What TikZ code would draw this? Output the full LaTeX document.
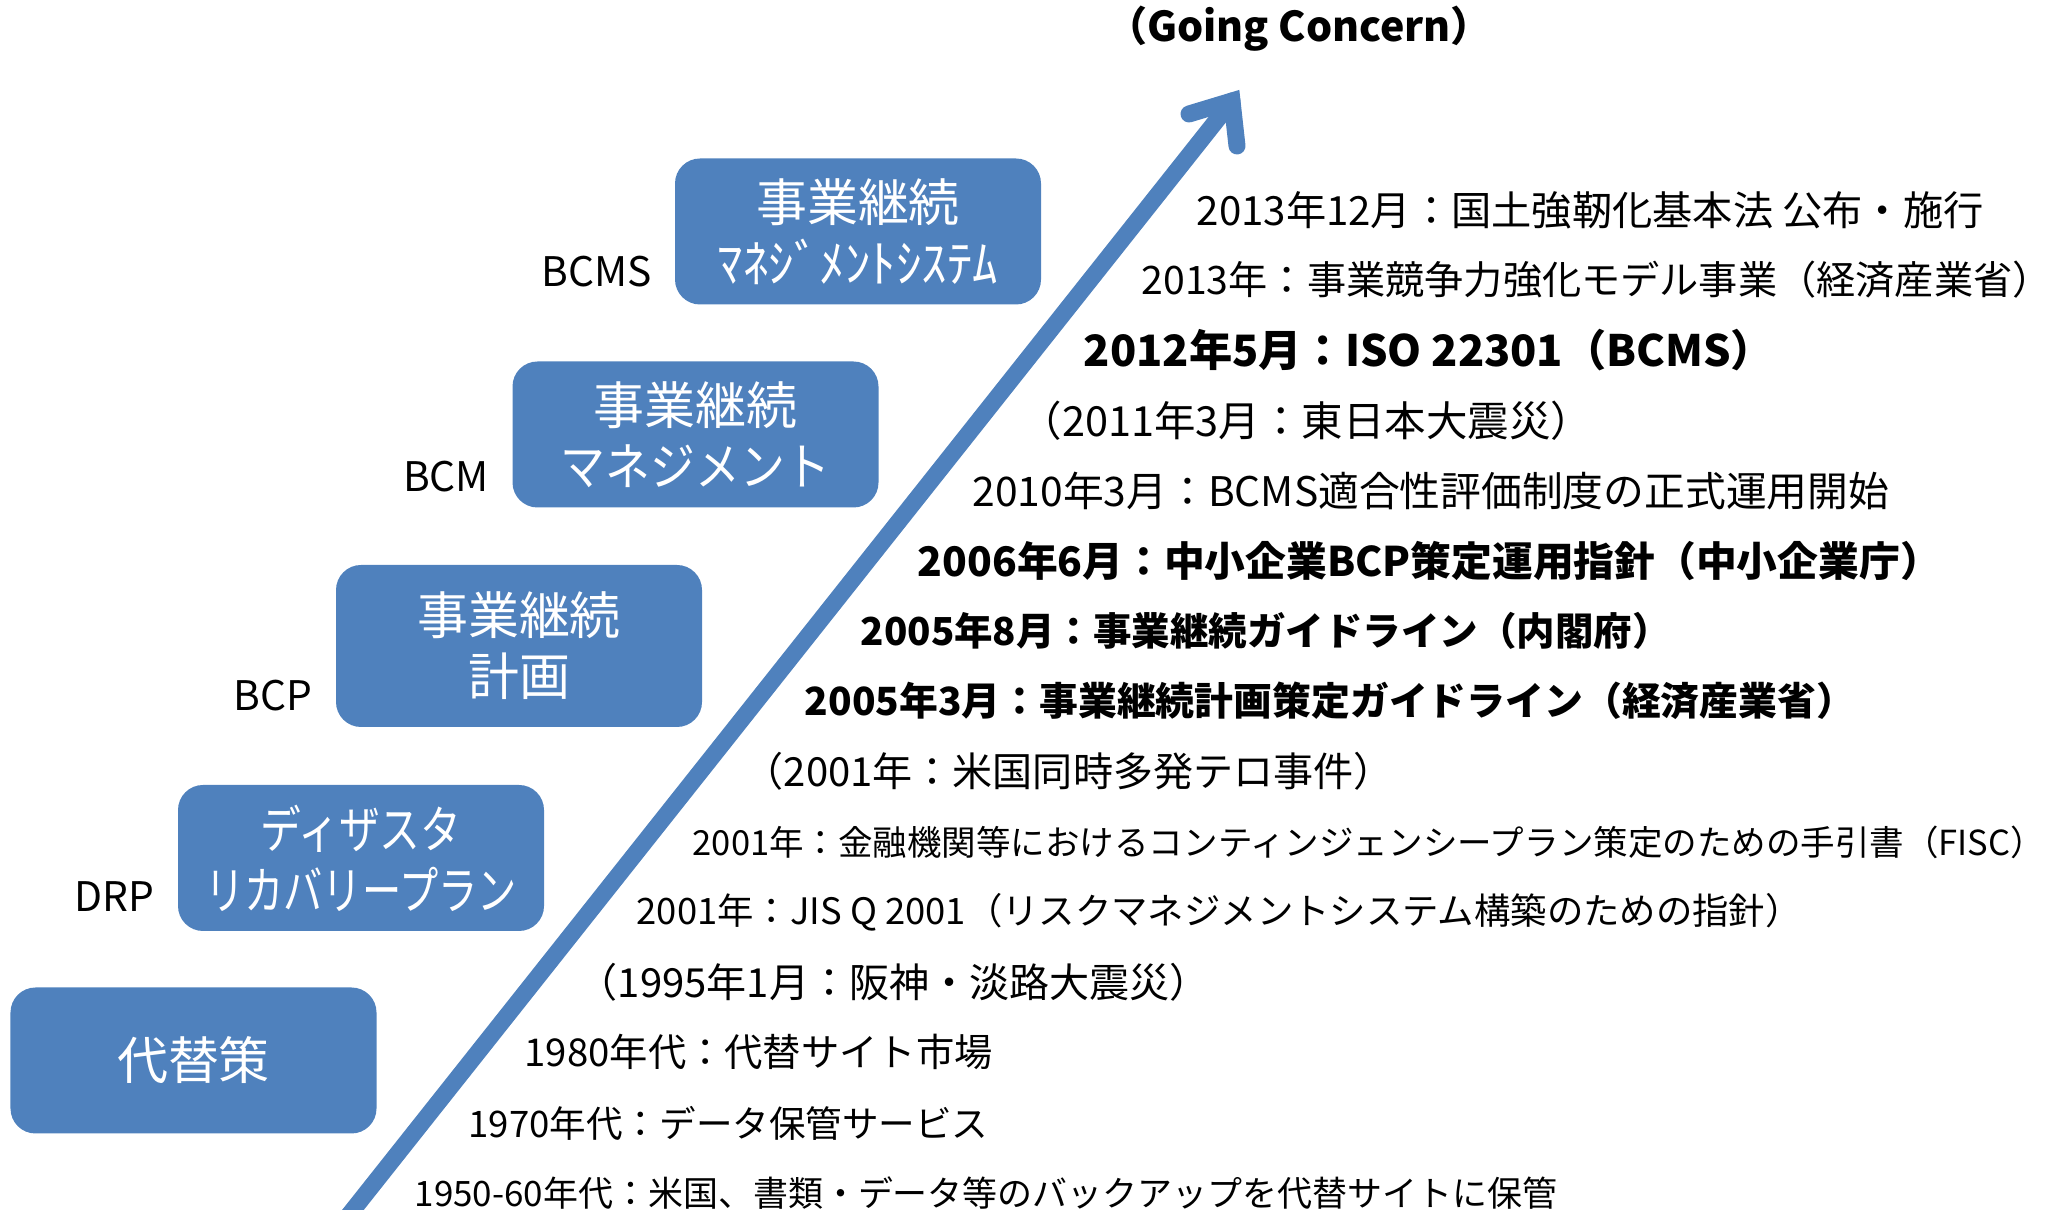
\documentclass[tikz,border=0pt]{standalone}
\usepackage{fontspec}
\setmainfont{Noto Sans CJK JP}
\usetikzlibrary{positioning}
\definecolor{boxblue}{RGB}{79,129,189}
\newcommand{\schmal}[2]{{\addfontfeature{FakeStretch=#1}#2}}

\begin{document}
\begin{tikzpicture}[
    box/.style={fill=boxblue, rounded corners=0.25cm, minimum width=3.66cm,
        minimum height=1.46cm, inner sep=0pt, text=white, align=center,
        font=\fontsize{14.5}{17.4}\selectfont},
    lbl/.style={inner sep=0pt, font=\fontsize{11.6}{13}\selectfont},
    ev/.style={anchor=west, inner sep=0pt, font=\fontsize{#1}{#1}\selectfont},
    evb/.style={anchor=west, inner sep=0pt, font=\fontsize{#1}{#1}\selectfont\bfseries},
    arr/.style={draw=boxblue, line width=0.17cm, line cap=round}
]
    \useasboundingbox (0,0) rectangle (20.56,12.10);

    % Pfeil
    \coordinate (tail) at (3.41,-0.15);
    \coordinate (tip) at (12.32,11.09);
    \coordinate (barbL) at (11.89,10.96);
    \coordinate (barbR) at (12.37,10.64);
    \draw[arr] (tail) -- (tip);
    \draw[arr, line join=miter] (barbL) -- (tip) -- (barbR);

    \node[font=\fontsize{11.7}{14}\selectfont\bfseries] (gc) at (12.99,11.81) {（Going Concern）};

    % Stufen
    \node[box] (alt) at (1.935,1.495) {代替策};
    \node[box] (drp) at (3.61,3.52) {\schmal{0.8}{ディザスタ}\\\schmal{0.77}{リカバリープラン}};
    \node[box, minimum height=1.62cm] (bcp) at (5.19,5.64) {事業継続\\計画};
    \node[box] (bcm) at (6.955,7.755) {事業継続\\\schmal{0.88}{マネジメント}};
    \node[box] (bcms) at (8.58,9.785) {事業継続\\ﾏﾈｼﾞﾒﾝﾄｼｽﾃﾑ};

    \node[lbl, left=0.22cm of drp.south west, yshift=0.35cm] (lDRP) {DRP};
    \node[lbl, left=0.22cm of bcp.south west, yshift=0.32cm] (lBCP) {BCP};
    \node[lbl, left=0.22cm of bcm.south west, yshift=0.32cm] (lBCM) {BCM};
    \node[lbl, left=0.22cm of bcms.south west, yshift=0.34cm] (lBCMS) {BCMS};

    % Ereignisse
    \node[ev=11.45] (e2013b) at (11.96,10.00) {2013年12月：国土強靭化基本法 公布・施行};
    \node[ev=11.15] (e2013a) at (11.41,9.30) {2013年：事業競争力強化モデル事業（経済産業省）};
    \node[evb=12.3] (e2012) at (10.83,8.60) {2012年5月：ISO 22301（BCMS）};
    \node[ev=11.8] (e2011) at (10.20,7.89) {（2011年3月：東日本大震災）};
    \node[ev=11.6] (e2010) at (9.72,7.19) {2010年3月：BCMS適合性評価制度の正式運用開始};
    \node[evb=11.6] (e2006) at (9.17,6.49) {2006年6月：中小企業BCP策定運用指針（中小企業庁）};
    \node[evb=10.95] (e2005b) at (8.60,5.79) {2005年8月：事業継続ガイドライン（内閣府）};
    \node[evb=11.05] (e2005a) at (8.04,5.09) {2005年3月：事業継続計画策定ガイドライン（経済産業省）};
    \node[ev=11.4] (e2001c) at (7.43,4.39) {（2001年：米国同時多発テロ事件）};
    \node[ev=9.82] (e2001b) at (6.92,3.68) {2001年：金融機関等におけるコンティンジェンシープラン策定のための手引書（FISC）};
    \node[ev=10.35] (e2001a) at (6.36,2.98) {2001年：JIS Q 2001（リスクマネジメントシステム構築のための指針）};
    \node[ev=11.4] (e1995) at (5.77,2.28) {（1995年1月：阪神・淡路大震災）};
    \node[ev=10.9] (e1980) at (5.24,1.58) {1980年代：代替サイト市場};
    \node[ev=10.4] (e1970) at (4.68,0.87) {1970年代：データ保管サービス};
    \node[ev=9.95] (e1950) at (4.14,0.17) {1950-60年代：米国、書類・データ等のバックアップを代替サイトに保管};
\end{tikzpicture}
\end{document}
